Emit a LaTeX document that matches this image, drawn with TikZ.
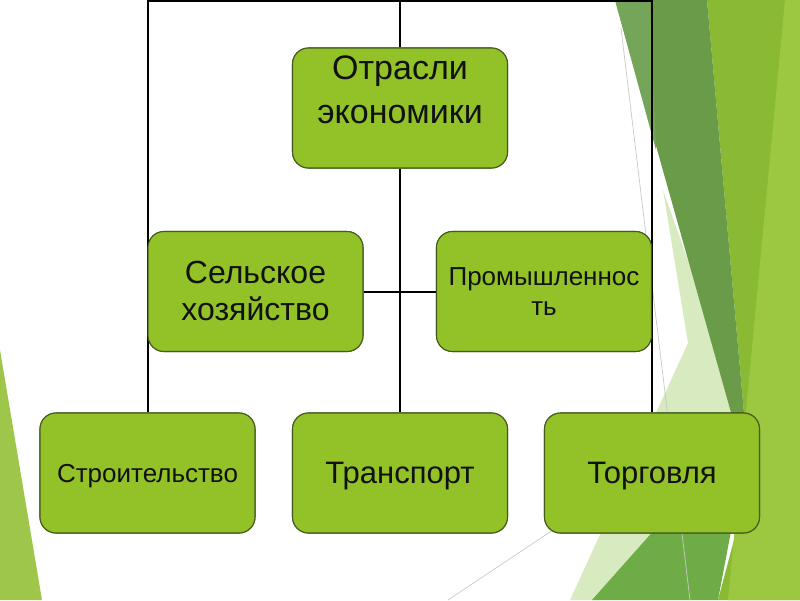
\documentclass[tikz,border=0pt]{standalone}
\usepackage{fontspec}
\setmainfont{Liberation Sans}
\definecolor{boxfill}{RGB}{146,194,40}
\definecolor{boxline}{RGB}{70,92,30}
\definecolor{txtcol}{RGB}{17,17,17}
\definecolor{bgdark}{RGB}{106,155,72}
\definecolor{bgdarklight}{RGB}{116,165,88}
\definecolor{bgbright}{RGB}{138,185,52}
\definecolor{bglight}{RGB}{155,200,64}
\definecolor{bgmedium}{RGB}{110,172,72}
\definecolor{bgpale}{RGB}{216,234,192}
\definecolor{bgleft}{RGB}{157,198,74}
\definecolor{grayln}{RGB}{200,200,200}
\begin{document}
\begin{tikzpicture}[x=1pt,y=-1pt,
  box/.style={draw=boxline, line width=1.1pt, fill=boxfill, rounded corners=16pt,
    minimum width=215pt, minimum height=120pt, inner sep=0pt},
  txt/.style={text=txtcol, align=center, inner sep=0pt},
  conn/.style={draw=black, line width=2pt},
  grayline/.style={draw=grayln, line width=0.7pt}]
\useasboundingbox (0,0) rectangle (800,600);
% background facets
\begin{scope}
\clip (0,0) rectangle (800,600);
\fill[bgleft] (0,350) -- (42,600) -- (0,600) -- cycle;
\fill[bgpale] (663,190) -- (755,450) -- (600,600) -- (570,600) -- (688,343) -- cycle;
\fill[bgbright] (707,0) -- (800,0) -- (800,600) -- (718,600) -- (750,480) -- cycle;
\fill[bglight] (785,0) -- (800,0) -- (800,600) -- (728,600) -- cycle;
\fill[bgmedium] (592,600) -- (752,420) -- (718,600) -- cycle;
\fill[bgdark] (615,0) -- (707,0) -- (750,480) -- cycle;
\fill[bgdarklight] (615,0) -- (650,0) -- (656,150) -- cycle;
\draw[grayline] (621,28) -- (690,600);
\draw[grayline] (448,600) -- (640,472);
\end{scope}
% boxes
\node[box] (otr) at (400,108) {};
\node[box] (selsk) at (255.5,291.5) {};
\node[box] (prom) at (544,291.5) {};
\node[box] (stroi) at (147.5,473) {};
\node[box] (trans) at (400,473) {};
\node[box] (torg) at (652,473) {};
% connectors
\coordinate (topbar) at (400,1);
\draw[conn] (otr.north) -- (otr.north |- topbar);
\draw[conn] (stroi.north) |- (topbar) -| (torg.north);
\draw[conn] (otr.south) -- (trans.north);
\draw[conn] (selsk.east) -- (prom.west);
% redraw boxes over connectors
\node[box] at (otr) {};
\node[box] at (selsk) {};
\node[box] at (prom) {};
\node[box] at (stroi) {};
\node[box] at (trans) {};
\node[box] at (torg) {};
% texts
\node[txt, font=\fontsize{34}{44}\selectfont] (otrT) at ([yshift=18pt]otr.center) {Отрасли\\экономики};
\node[txt, font=\fontsize{32}{37}\selectfont] (selskT) at ([yshift=1pt]selsk.center) {Сельское\\хозяйство};
\node[txt, font=\fontsize{26}{30}\selectfont] (promT) at (prom.center) {Промышленнос\\ть};
\node[txt, font=\fontsize{26}{30}\selectfont] (stroiT) at ([yshift=-3pt]stroi.center) {Строительство};
\node[txt, font=\fontsize{31}{36}\selectfont] (transT) at ([yshift=-3pt]trans.center) {Транспорт};
\node[txt, font=\fontsize{31}{36}\selectfont] (torgT) at ([yshift=-3pt]torg.center) {Торговля};
\end{tikzpicture}
\end{document}
